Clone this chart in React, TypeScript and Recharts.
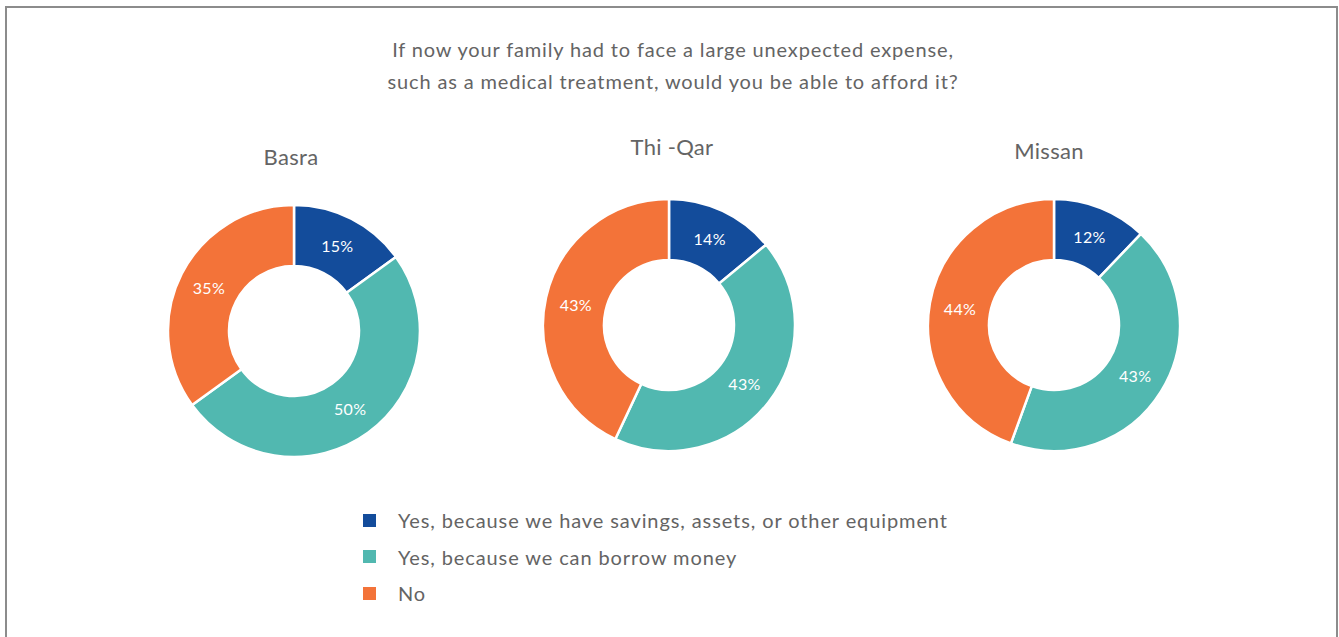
import { PieChart, Pie, Cell, Legend } from "recharts";

const categories = [
  "Yes, because we have savings, assets, or other equipment",
  "Yes, because we can borrow money",
  "No",
];
const colors = ["#134C9B", "#51B8B0", "#F37339"];

const regions = ["Basra", "Thi -Qar", "Missan"];
const basra = [15, 50, 35];
const thiQar = [14, 43, 43];
const missan = [12, 43, 44];

const titleLines = [
  "If now your family had to face a large unexpected expense,",
  "such as a medical treatment, would you be able to afford it?",
];

const font = "Lato, 'Open Sans', sans-serif";
const textColor = "#646464";
const RAD = Math.PI / 180;

const toRows = (values: number[]) =>
  values.map((v, i) => ({ name: categories[i], value: v }));

const pies = [
  { name: regions[0], data: toRows(basra), cx: 294, cy: 331, tx: 291, ty: 157 },
  { name: regions[1], data: toRows(thiQar), cx: 669, cy: 325, tx: 672, ty: 147 },
  { name: regions[2], data: toRows(missan), cx: 1054, cy: 325, tx: 1049, ty: 151 },
];

const renderLabel = (props: any) => {
  const { cx, cy, midAngle, innerRadius, outerRadius, value } = props;
  const r = (innerRadius + outerRadius) / 2;
  const x = cx + r * Math.cos(-midAngle * RAD);
  const y = cy + r * Math.sin(-midAngle * RAD);
  return (
    <text
      x={x}
      y={y}
      fill="#fff"
      textAnchor="middle"
      dominantBaseline="central"
      fontFamily={font}
      fontSize={16}
      letterSpacing={0.3}
    >
      {`${value}%`}
    </text>
  );
};

const LegendBox = () => (
  <div
    style={{
      fontFamily: font,
      fontSize: 20,
      letterSpacing: 0.9,
      color: textColor,
    }}
  >
    {categories.map((c, i) => (
      <div key={c} style={{ display: "flex", alignItems: "center", height: 36.5 }}>
        <span
          style={{
            width: 13,
            height: 13,
            background: colors[i],
            display: "inline-block",
            marginRight: 22,
          }}
        />
        <span>{c}</span>
      </div>
    ))}
  </div>
);

export default function App() {
  return (
    <div
      style={{
        position: "absolute",
        left: 0,
        top: 0,
        width: 1339,
        height: 637,
        background: "#fff",
        overflow: "hidden",
      }}
    >
      <div
        style={{
          position: "absolute",
          left: 5,
          top: 6,
          width: 1329,
          height: 700,
          borderLeft: "2px solid #8c8c8c",
          borderTop: "2px solid #8c8c8c",
          borderRight: "2px solid #8c8c8c",
        }}
      />
      {titleLines.map((t, i) => (
        <div
          key={t}
          style={{
            position: "absolute",
            left: 0,
            width: 1346,
            top: 36 + i * 32,
            textAlign: "center",
            fontFamily: font,
            fontSize: 20,
            letterSpacing: 0.85,
            color: textColor,
            lineHeight: "26px",
          }}
        >
          {t}
        </div>
      ))}
      {pies.map((p) => (
        <div
          key={p.name}
          style={{
            position: "absolute",
            left: p.tx - 100,
            width: 200,
            top: p.ty - 14,
            textAlign: "center",
            fontFamily: font,
            fontSize: 22,
            letterSpacing: 0.3,
            color: textColor,
            lineHeight: "28px",
          }}
        >
          {p.name}
        </div>
      ))}
      <div style={{ position: "absolute", left: 0, top: 0 }}>
        <PieChart width={1339} height={637} margin={{ top: 0, right: 0, bottom: 0, left: 0 }}>
          {pies.map((p) => (
            <Pie
              key={p.name}
              data={p.data}
              dataKey="value"
              nameKey="name"
              cx={p.cx}
              cy={p.cy}
              innerRadius={65}
              outerRadius={126}
              startAngle={90}
              endAngle={-270}
              stroke="#fff"
              strokeWidth={2.5}
              label={renderLabel}
              labelLine={false}
              isAnimationActive={false}
            >
              {p.data.map((d, i) => (
                <Cell key={d.name} fill={colors[i]} />
              ))}
            </Pie>
          ))}
          <Legend
            content={() => <LegendBox />}
            wrapperStyle={{ position: "absolute", left: 363, top: 502, width: 760 }}
          />
        </PieChart>
      </div>
    </div>
  );
}
